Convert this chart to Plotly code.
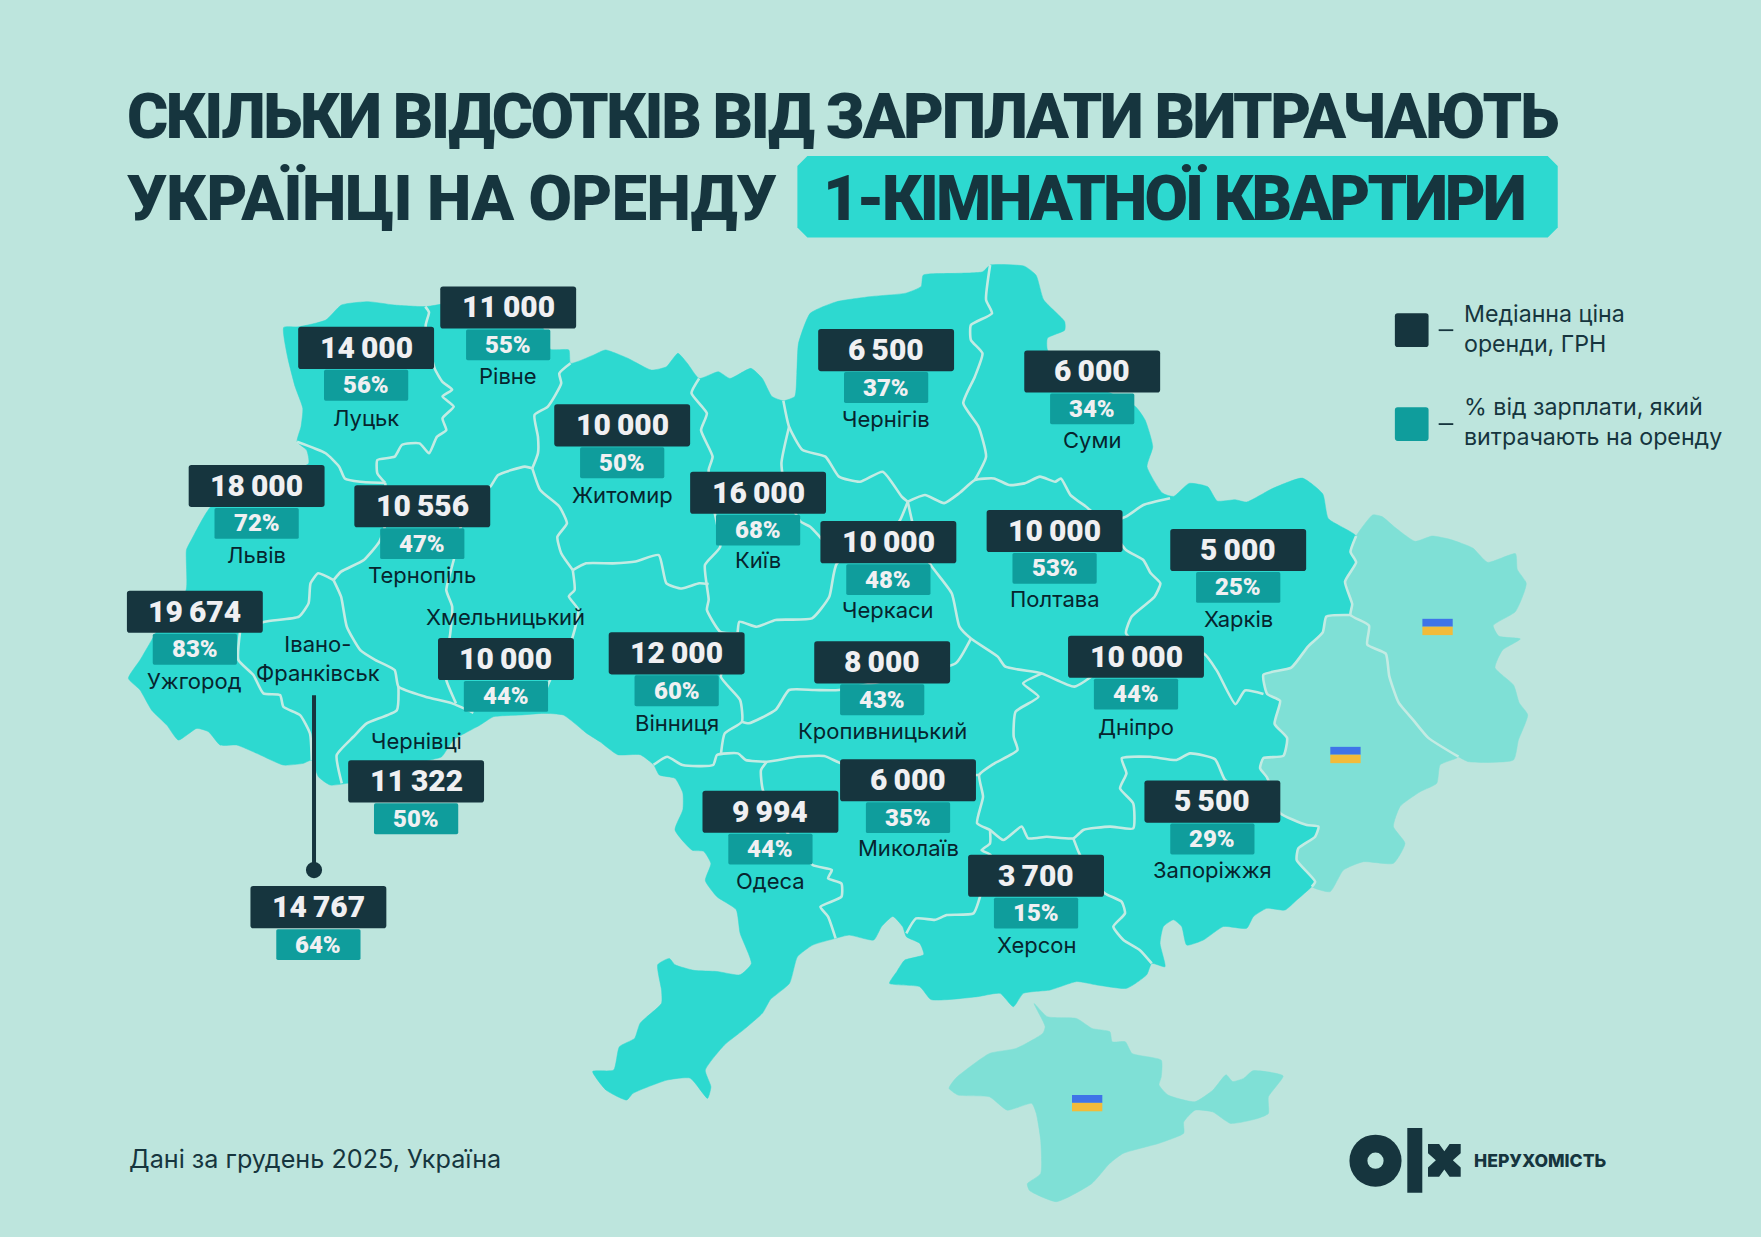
import plotly.graph_objects as go

W, H = 1761, 1237
K = W / 1568  # picture units -> pixels

BG = "#bde5dd"
MAP = "#2dd9d0"
LIGHT = "#7fe0d6"
DARK = "#16353e"
TEAL = "#0f9d9c"
INK = "#0e2c35"

# ---------- data ----------
cities = ["Рівне", "Луцьк", "Житомир", "Львів", "Тернопіль", "Ужгород", "Київ", "Хмельницький",
          "Вінниця", "Черкаси", "Полтава", "Харків", "Чернігів", "Суми", "Дніпро", "Кропивницький",
          "Миколаїв", "Запоріжжя", "Одеса", "Херсон", "Чернівці", "Івано-<br>Франківськ"]
prices = [11000, 14000, 10000, 18000, 10556, 19674, 16000, 10000, 12000, 10000, 10000, 5000,
          6500, 6000, 10000, 8000, 6000, 5500, 9994, 3700, 11322, 14767]
shares = [55, 56, 50, 72, 47, 83, 68, 44, 60, 48, 53, 25, 37, 34, 44, 43, 35, 29, 44, 15, 50, 64]

# where each city's label block sits (box centre x, box top y, city label centre y)
box_x = [452.5, 326, 554, 228.5, 376, 173.5, 675, 450.5, 602.5, 791, 939, 1102.5, 789, 972.5,
         1011.5, 785.5, 808.5, 1079.5, 686, 922.5, 370.5, 283.5]
box_y = [255, 291, 360, 414, 432, 526, 420, 568, 563, 464, 454, 471, 293, 312, 566, 571, 676,
         695, 704, 761, 677, 789]
label_y = [335, 372, 441, 494, 512, 606, 499, 549, 644, 543, 533, 551, 373, 392, 647, 651, 755,
           775, 784, 841, 660, 586]

outline = [
    (252.6,291.5),(266,291),(290,285),(304,271.6),(327.6,268.6),(351,271.6),(378.7,273),(392,271),(420,262),
    (470,270),(485,295),(490,311),(506.5,311.6),(508,323.5),(528.7,316),(539,311.6),(559,319),(580,329.5),
    (593.4,326.5),(603.6,314.6),(612,323.5),(622.5,337),(639.6,331),(650,337),(668.6,328),(678.8,337),
    (687.3,353),(697.5,356.8),(707.7,353),(709.5,332.4),(711,305.7),(721.4,279),(745,268.6),(776,264),
    (806.6,261),(820.2,255),(822,245),(851,243.4),(875,242),(881.6,236),(912,237),(922.5,245),(929.3,267),
    (948,286.4),(948,294),(932.7,301),(932.7,311.6),(960,335),(1011,362),(1019.6,374),(1026.4,397.7),
    (1021.3,415.5),(1035,439),(1045,442),(1058.8,430.4),(1075.5,433.5),(1083.7,446),(1100,445),(1110,447),
    (1133,435),(1159.6,425.7),(1177.8,439.8),(1182.7,461.7),(1207.5,477.3),(1202.5,491.4),(1207.5,500.7),
    (1197.6,518),(1204,538),(1202.5,547.6),(1181,549),(1177.8,563),(1164.6,575.7),(1149.7,594.5),(1125,600.7),
    (1128.3,618),(1139.8,624),(1134.9,644.5),(1146,657),(1142.7,673),(1125,675),(1122,684),(1128,692),
    (1135,710),(1139.8,724),(1163.5,734.6),(1174,736),(1171,745),(1156,755.4),(1154.6,765.8),(1171,785),
    (1168,789.5),(1154.6,801.4),(1144.2,810.3),(1127.9,808.8),(1116,816.2),(1110,826.6),(1089.3,825),
    (1071.5,837),(1056.6,841.5),(1052.2,825),(1044.8,819),(1035.9,825),(1032.9,840),(1037.3,860.8),
    (1025.5,857.8),(1021,868),(1003.2,880),(976.5,877),(958.7,874),(935,881.5),(911.2,884.5),(902.3,896.4),
    (890.4,884.5),(870,887.5),(829,890),(819,878.6),(792,875.6),(798.6,865),(805.4,855),(822.5,850),(819,840),
    (807,834),(803.7,825),(795,816),(785,825),(778,837),(756,832.6),(744,835.5),(723.6,841.5),(710,852),
    (703,875.6),(686,890),(679,902),(662,917),(645,930.5),(628,952.8),(633,967.6),(630,978),(614.6,960),
    (594,961.7),(563.5,973.6),(558,979.5),(539.6,970.6),(527.7,954),(546.4,952.8),(551.5,932),(565,924.6),
    (570,911),(589,893.4),(589,881.6),(585.6,859),(596,853.4),(601,859),(618,864),(638.4,865),(659,868),
    (669,858),(659,831),(655.5,810),(638.4,798.5),(628,784),(633,769),(626.5,758),(616.3,757),(601,739),
    (608,721),(608,706),(601,693),(587,690),(582,681),(570,672),(550,672),(534.3,660.5),(522.5,653),
    (501.7,636.7),(483.9,635.2),(463.1,636.7),(439.3,638.2),(427.5,645.6),(403.7,659),(393.3,673.8),
    (382.9,676.8),(340,690),(308.7,697.5),(293.9,699),(283.5,691.6),(277.6,676.8),(270,679.7),(252.3,681.2),
    (228.6,670.8),(210.8,663.4),(196,663.4),(185.6,651.5),(175.2,648.6),(158.8,659),(148.5,645.6),(135,632.3),
    (124.7,614.4),(114.3,604),(124.7,587.7),(135,570),(150,545),(165.7,525.4),(166,489.7),(170.8,480),
    (187.8,451),(230,430),(274.8,412.6),(273,400.7),(264.5,393.3),(268,380),(269.6,363.6),(262.8,344.3),
    (256,317.6),
]
luhansk = [
    (1207.5,477.3),(1222.3,458.5),(1230.6,460),(1242,469.5),(1260,482),(1275,477.3),(1291.6,480.4),(1311.4,488),
    (1324.6,500.7),(1349.4,493),(1351,507),(1359,519.5),(1349.4,544.5),(1329.6,557),(1334.5,566.4),(1353.7,568.9),
    (1337.8,578.9),(1331.2,594.5),(1347.7,610),(1352.7,625.7),(1360.3,636.6),(1352,659),(1347.6,676.7),(1307.5,678.2),
    (1298.6,673.8),(1271.8,657),(1258.6,641.4),(1245.4,625.7),(1237,602),(1233.9,582),(1217.4,574),(1219,557),
    (1202.5,547.6),(1204,538),(1197.6,518),(1207.5,500.7),(1202.5,491.4),
]
donetsk = [
    (1202.5,547.6),(1181,549),(1177.8,563),(1164.6,575.7),(1149.7,594.5),(1125,600.7),(1128.3,618),(1139.8,624),
    (1134.9,644.5),(1146,657),(1142.7,673),(1125,675),(1122,684),(1128,692),(1135,710),(1139.8,724),(1163.5,734.6),
    (1174,736),(1171,745),(1156,755.4),(1154.6,765.8),(1171,785),(1168,789.5),(1184.3,794),(1196.2,774.7),(1214,767.3),
    (1240.7,768.7),(1251,750.9),(1240.7,736),(1246.7,718),(1264.5,705),(1279.3,697.5),(1282.3,681),(1298.6,673.8),
    (1271.8,657),(1258.6,641.4),(1245.4,625.7),(1237,602),(1233.9,582),(1217.4,574),(1219,557),
]
crimea = [
    (920.7,893.5),(932.6,905.3),(958.5,906.8),(972.4,915.7),(988.3,918.7),(990.3,927.6),(1002,927.6),(1008,938),
    (1034,944),(1034,958.8),(1032,966),(1040,975),(1064,981),(1080,970.6),(1091.7,957),(1097.6,963),(1107.6,960),
    (1115.5,953.4),(1142.5,958),(1129.4,976.6),(1129.4,991.4),(1119.5,996),(1095.6,1000.3),(1079.7,990),(1064,988.5),
    (1054,999),(1054,1009),(1032,1018),(1000,1027),(988,1036),(972,1054),(940.6,1070),(916.7,1060),(914.7,1054),
    (926.6,1045),(926.6,1015),(922.7,991.4),(918.7,982.5),(896.8,988.5),(881,976.6),(853,975),(845,969),(851,960),
    (881,938),(904.8,933.5),(928.6,920),(930.6,914),
]
borders = [
    [(378.7,273),(382,278),(379,290),(387,328),(394,340),(402.6,347),(394,353),(404,362),(394,372.5),(397.4,383),(389,389),
     (382,403.6),(373.6,394.8),(358,396),(351.4,406.6),(336,409.6),(336,421.5),(343,430)],
    [(264.5,393.3),(290,403.6),(302,415.5),(307,426),(320.8,429),(343,430)],
    [(343,430),(345,460),(337.8,482.3),(324,498.6),(303.7,509),(297,516.5)],
    [(425,440),(436.6,433.3),(443.5,423),(467.3,415.5),(474,417)],
    [(425,440),(410,470),(404,498.6),(397.4,525.4),(402.6,540),(400.9,564),(397,590),(397.4,605.5),(406,626.3)],
    [(508,323.5),(498,332.4),(499.7,341.3),(487.8,362),(475.9,369.5),(479,389),(479,403.6),(474,417)],
    [(474,417),(481,436.3),(498,451),(504.8,466),(496.3,478),(499.7,492.7),(510,507.6)],
    [(510,507.6),(521.9,501.6),(545.7,501.6),(566,500),(586.6,494.2),(593.4,519.4),(607,524),(622.5,519.4),(631,520)],
    [(510,507.6),(511.6,525.4),(506.5,531),(515,543),(511.6,561),(505,580),(490,605),(480,630)],
    [(297,516.5),(303.7,531.3),(308.8,558),(320.8,578.8),(334.4,587.7),(351.4,596.6),(354.8,611.4),(378.7,620.4),
     (402.6,626.3),(421.5,634.6)],
    [(297,516.5),(283.3,510.5),(276.5,519.4),(274.8,537),(266.2,549),(235.6,553.6),(213.8,562)],
    [(213.8,562),(212.3,587.7),(225.6,601),(234.5,617.4),(249.4,618.9),(252.3,629.3),(267.2,636.7),(276,653),(277.6,676.8)],
    [(354.8,611.5),(353.3,632.3),(326.5,644.1),(314.7,656),(299.8,672.3),(304.3,697.5)],
    [(622.5,337),(615.7,350),(629.4,368),(624.2,383),(634.5,406.6),(631,418.5),(635,450),(641.3,486.8),(627.7,503),
     (631,534),(629.4,543),(641.3,562.5),(656.6,564)],
    [(697.5,356.8),(702.6,380),(714.6,400.7),(735,406.6),(747,424.4),(765.7,429),(786,420),(803,442.3),(808.3,446.7)],
    [(702.6,380),(695.8,412.6),(700,440),(712.9,464.5),(721.4,469),(730,478),(745,495)],
    [(808.3,446.7),(801.5,463),(790,480),(745.2,501.6),(738.4,531.3),(723,550.6),(690.7,552),(673.7,558),(658.3,553.6),
     (656.6,564),(650,585),(641.8,602.5),(659,623.3),(660.6,642.6),(645.3,653),(642,670.8)],
    [(881.6,236),(878,267),(883.3,279),(864.5,289.4),(864.5,302.7),(874.8,314.6),(868,335.4),(857.7,359),(871.3,380),
     (878,406.6),(868,427.4)],
    [(808.3,446.7),(823.6,440.8),(840.7,448),(854.3,439),(868,427.4),(885,426),(898.6,431.9),(912.2,430.4),(926,424.4),
     (939.5,429),(944.6,426),(953.2,440.8),(966.8,451),(985,465),(1002.6,460),(1018,449.7),(1041.8,443.7)],
    [(985,465),(1002.6,489.7),(1018,498.6),(1024.7,510.5),(1033.2,519.4),(1028,531.3),(1007.7,549),(1002.6,564),(1020,578),(1072,582),
     (1083.7,597.6),(1100,627),(1108.5,614.8),(1125,618)],
    [(808.3,446.7),(815,475),(828.7,503),(847.5,528.4),(854.3,558),(864.5,568.6),(888.4,584.7),(895.2,593.6),(927.6,599.6),
     (956.6,611.4),(975,600),(1002.6,572)],
    [(864.5,568.6),(851,590.6),(815,600),(747,614.4),(725,614.4),(702.6,614.4),(690.7,632),(666.8,644),(660.6,642.6)],
    [(928,599.6),(911,608.5),(924.7,620.4),(904.3,633.7),(902.6,656),(906,667.8),(885.5,679.7),(871.9,690),(875.3,709.4),
     (870,733),(881.5,739),(893.4,748),(909.7,736),(915.6,746.5),(932,745),(955.7,746.5),(964.6,739),(988.4,736),(1009,737.6),
     (1009,715.3),(997.3,702),(1003,688.6),(998.8,675.2),(1024,673.8),(1047.7,676.7),(1059.6,670.8),(1081.9,676),(1090.8,694.5),
     (1110,705),(1135,710)],
    [(881.5,739),(881.5,751),(874,757),(882,761.3),(875,790),(866.8,813.3),(843,814.8),(832.7,819),(815.7,817.8),(807,831)],
    [(955.7,746.5),(961,760),(975,785),(984,795.5),(998.8,803),(1001.7,813.3),(991.3,825),(1000.3,837),(1015,846),(1025.5,857.8)],
    [(582,681),(594,673.8),(607.8,681.2),(635,681.2),(638.4,672.3),(657,670.8),(664,676.7),(682.8,678.2),(710,673.8),
     (733.9,673.2),(749,679.7),(800,690),(871.9,690)],
    [(682.8,678.2),(677.6,685.7),(679.3,703.5),(700,740),(723.6,770.2),(740.7,774.7),(737.3,782),(749.2,786.6),(749.2,798.5),
     (730.5,807.4),(737.3,816.2),(744,835.5)],
]
# outer edges of the occupied regions where they meet each other and the rest of the map
occupied_borders = [
    [(1207.5,477.3),(1202.5,491.4),(1207.5,500.7),(1197.6,518),(1204,538),(1202.5,547.6),(1219,557),(1217.4,574),(1233.9,582),
     (1237,602),(1245.4,625.7),(1258.6,641.4),(1271.8,657),(1298.6,673.8)],
    donetsk[:23],
]
flags = [(1266.5, 551), (1184.5, 665), (954.5, 975)]

title_1 = "СКІЛЬКИ ВІДСОТКІВ ВІД ЗАРПЛАТИ ВИТРАЧАЮТЬ"
title_2 = "УКРАЇНЦІ НА ОРЕНДУ"
title_3 = "1-КІМНАТНОЇ КВАРТИРИ"
legend_1 = "Медіанна ціна<br>оренди, ГРН"
legend_2 = "% від зарплати, який<br>витрачають на оренду"
footer = "Дані за грудень 2025, Україна"
brand = "НЕРУХОМІСТЬ"

# ---------- helpers ----------
def rrect(x0, y0, x1, y1, r, color):
    p = (f"M{x0+r},{y0} L{x1-r},{y0} Q{x1},{y0} {x1},{y0+r} L{x1},{y1-r} Q{x1},{y1} {x1-r},{y1} "
         f"L{x0+r},{y1} Q{x0},{y1} {x0},{y1-r} L{x0},{y0+r} Q{x0},{y0} {x0+r},{y0} Z")
    return dict(type="path", path=p, fillcolor=color, line_width=0, xref="x", yref="y")

def rect(x0, y0, x1, y1, color):
    return dict(type="rect", x0=x0, y0=y0, x1=x1, y1=y1, fillcolor=color, line_width=0, xref="x", yref="y")

def text(x, y, s, size, color=INK, family="Inter", weight=400, anchor="center"):
    return dict(x=x, y=y, text=s, showarrow=False, xanchor=anchor, yanchor="middle", xref="x", yref="y",
                font=dict(size=size, color=color, family=family, weight=weight), align="left" if anchor == "left" else "center")

def poly(points, color):
    return go.Scatter(x=[p[0] for p in points] + [points[0][0]], y=[p[1] for p in points] + [points[0][1]],
                      mode="lines", fill="toself", fillcolor=color, line=dict(color=color, width=0.5, shape="spline", smoothing=0.5),
                      hoverinfo="skip", showlegend=False)

def border(points):
    return go.Scatter(x=[p[0] for p in points], y=[p[1] for p in points], mode="lines",
                      line=dict(color="#c3ebe3", width=2.6, shape="spline", smoothing=0.5), hoverinfo="skip", showlegend=False)

fig = go.Figure()
fig.add_trace(poly(outline, MAP))
fig.add_trace(poly(luhansk, LIGHT))
fig.add_trace(poly(donetsk, LIGHT))
fig.add_trace(poly(crimea, LIGHT))
for b in borders + occupied_borders:
    fig.add_trace(border(b))

shapes, notes = [], []

# title
c = 10 / K
px0, py0, px1, py1 = 710, 139, 1387, 211.5
shapes.append(dict(type="path", fillcolor=MAP, line_width=0, xref="x", yref="y",
                   path=f"M{px0+c},{py0} L{px1-c},{py0} L{px1},{py0+c} L{px1},{py1-c} L{px1-c},{py1} L{px0+c},{py1} L{px0},{py1-c} L{px0},{py0+c} Z"))
TITLE_FONT = "Roboto"
notes.append(text(111, 104, title_1, 63, DARK, TITLE_FONT, 900, anchor="left"))
notes.append(text(111, 177, title_2, 63, DARK, TITLE_FONT, 900, anchor="left"))
notes.append(text(731, 177, title_3, 63, DARK, TITLE_FONT, 900, anchor="left"))

# leader for Ivano-Frankivsk
shapes.append(dict(type="line", x0=279.6, x1=279.6, y0=619, y1=775, line=dict(color=DARK, width=4), xref="x", yref="y"))
shapes.append(dict(type="circle", x0=272.4, x1=286.8, y0=767.5, y1=782, fillcolor=DARK, line_width=0, xref="x", yref="y"))

# city blocks
BW, BH, PW, PH = 121, 37.5, 75, 27.5
for name, price, share, bx, by, ly in zip(cities, prices, shares, box_x, box_y, label_y):
    shapes.append(rrect(bx - BW / 2, by, bx + BW / 2, by + BH, 2.5, DARK))
    shapes.append(rrect(bx - PW / 2, by + BH + 0.8, bx + PW / 2, by + BH + 0.8 + PH, 1.5, TEAL))
    notes.append(text(bx, by + BH / 2 - 0.6, f"{price:,}".replace(",", "\u2009"), 30, "#f0f0f2", "Roboto", 900))
    notes.append(text(bx, by + BH + 0.8 + PH / 2, f"{share}%", 24, "#f0f0f2", "Roboto", 900))
    notes.append(text(bx, ly, name, 22, "#06252e", "Inter", 400))

# legend
for y, col, label in [(279, DARK, legend_1), (362.6, TEAL, legend_2)]:
    shapes.append(rrect(1242, y, 1272, y + 30, 2.5, col))
    shapes.append(dict(type="line", x0=1281, x1=1294, y0=y + 15, y1=y + 15, line=dict(color=DARK, width=1.8), xref="x", yref="y"))
    notes.append(text(1302, y + 13.5, label, 23.2, DARK, anchor="left"))

# flags
for fx, fy in flags:
    shapes.append(rect(fx, fy, fx + 27, fy + 7, "#3f74e8"))
    shapes.append(rect(fx, fy + 7, fx + 27, fy + 14.5, "#f2bb3a"))

# footer + logo
notes.append(text(113, 1032, footer, 25.2, DARK, anchor="left"))
cx, cy = 1375.5 / K, 1160.7 / K
shapes.append(dict(type="circle", x0=cx - 23.2, x1=cx + 23.2, y0=cy - 23.2, y1=cy + 23.2, fillcolor=DARK, line_width=0, xref="x", yref="y"))
shapes.append(dict(type="circle", x0=cx - 7.2, x1=cx + 7.2, y0=cy - 7.2, y1=cy + 7.2, fillcolor=BG, line_width=0, xref="x", yref="y"))
shapes.append(rect(1407.3 / K, 1128 / K, 1422.3 / K, 1192.7 / K, DARK))
lx0, ly0, s = 1428 / K, 1144 / K, 32.7 / K
x_pts = [(0,0),(.34,0),(.5,.22),(.66,0),(1,0),(1,.28),(.76,.5),(1,.72),(1,1),(.66,1),(.5,.78),(.34,1),(0,1),(0,.72),(.24,.5),(0,.28)]
shapes.append(dict(type="path", fillcolor=DARK, line_width=0, xref="x", yref="y",
                   path="M" + " L".join(f"{lx0+a*s},{ly0+b*s}" for a, b in x_pts) + " Z"))
notes.append(text(1311, 1033, brand, 17.6, DARK, "Inter", 800, anchor="left"))

fig.update_layout(
    width=W, height=H, margin=dict(l=0, r=0, t=0, b=0, pad=0), autosize=False,
    paper_bgcolor=BG, plot_bgcolor=BG, showlegend=False, hovermode=False,
    xaxis=dict(range=[0, 1568], visible=False, fixedrange=True),
    yaxis=dict(range=[H / K, 0], visible=False, fixedrange=True),
    shapes=shapes, annotations=notes,
)
# the title face of the reference is set tighter than any installed font
tighten = """
document.body.style.margin='0';document.body.style.background='%s';
var sp={'%s':'-2.47px','%s':'-0.64px','%s':'-2.95px'};
document.querySelectorAll('.annotation-text').forEach(function(t){
  if(sp[t.textContent]){t.style.letterSpacing=sp[t.textContent];}
});
""" % (BG, title_1, title_2, title_3)
fig.write_html("out.html", config={"displayModeBar": False}, post_script=tighten)
